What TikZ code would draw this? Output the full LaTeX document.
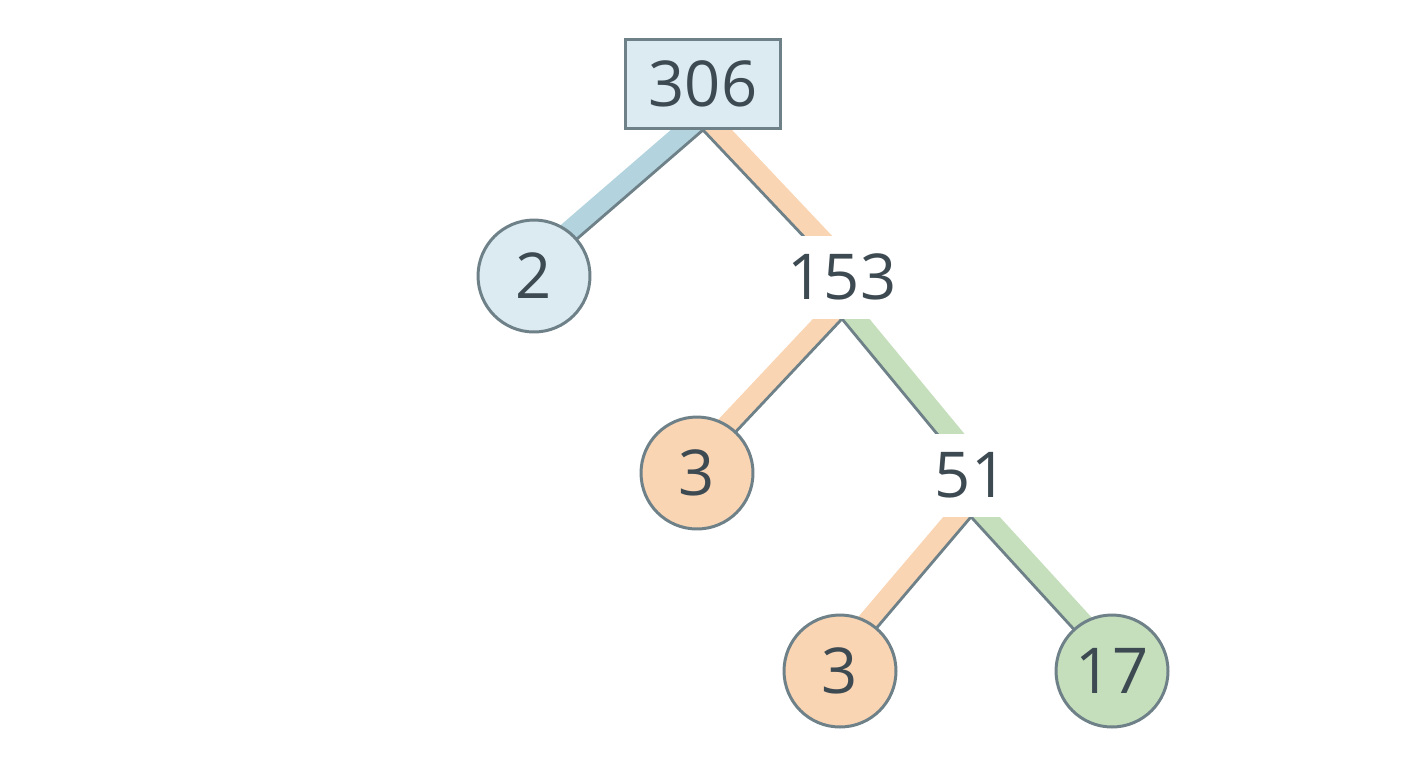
\documentclass[tikz,border=0pt]{standalone}
\usepackage{fontspec}
\setmainfont{Open Sans}
\usetikzlibrary{backgrounds}
\definecolor{edge}{HTML}{6E8088}
\definecolor{ink}{HTML}{3D4A52}
\definecolor{bluefill}{HTML}{DCEBF2}
\definecolor{blueband}{HTML}{B3D4DE}
\definecolor{orangefill}{HTML}{F9D5B4}
\definecolor{greenfill}{HTML}{C5DFBC}
\tikzset{
  num/.style={text=ink,font=\fontsize{36}{40}\selectfont},
  leaf/.style={num,circle,draw=edge,line width=1.7pt,minimum size=2.24cm,inner sep=0pt},
  mid/.style={num,fill=white,minimum height=1.66cm,inner sep=0pt},
  link/.style={draw=edge,line width=1.6pt},
  band/.style={line width=0.42cm},
}
\begin{document}
\begin{tikzpicture}[x=0.02cm,y=-0.02cm]
\useasboundingbox (0,0) rectangle (1408,768);
\node[num,draw=edge,fill=bluefill,line width=1.7pt,minimum width=3.1cm,minimum height=1.78cm] (n306) at (703,84) {306};
\node[leaf,fill=bluefill] (n2) at (534,276) {2};
\node[mid,minimum width=2.1cm] (n153) at (842,277) {153};
\node[leaf,fill=orangefill] (n3a) at (697,473) {3};
\node[mid,minimum width=1.56cm] (n51) at (971,475) {51};
\node[leaf,fill=orangefill] (n3b) at (840,671) {3};
\node[leaf,fill=greenfill] (n17) at (1112,671) {17};
\begin{scope}[on background layer]
  % coloured bands
  \draw[band,blueband,transform canvas={xshift=-0.15cm,yshift=0.15cm}] (n306.south) -- (n2.center);
  \draw[band,orangefill,transform canvas={xshift=0.15cm,yshift=0.15cm}] (n306.south) -- (n153.center);
  \draw[band,orangefill,transform canvas={xshift=-0.16cm,yshift=0.14cm}] (n153.south) -- (n3a.center);
  \draw[band,greenfill,transform canvas={xshift=0.16cm,yshift=0.14cm}] (n153.south) -- (n51.center);
  \draw[band,orangefill,transform canvas={xshift=-0.16cm,yshift=0.14cm}] (n51.south) -- (n3b.center);
  \draw[band,greenfill,transform canvas={xshift=0.16cm,yshift=0.14cm}] (n51.south) -- (n17.center);
  % thin lines
  \draw[link] (n306.south) -- (n2.center);
  \draw[link] (n306.south) -- (n153.center);
  \draw[link] (n153.south) -- (n3a.center);
  \draw[link] (n153.south) -- (n51.center);
  \draw[link] (n51.south) -- (n3b.center);
  \draw[link] (n51.south) -- (n17.center);
\end{scope}
\end{tikzpicture}
\end{document}
